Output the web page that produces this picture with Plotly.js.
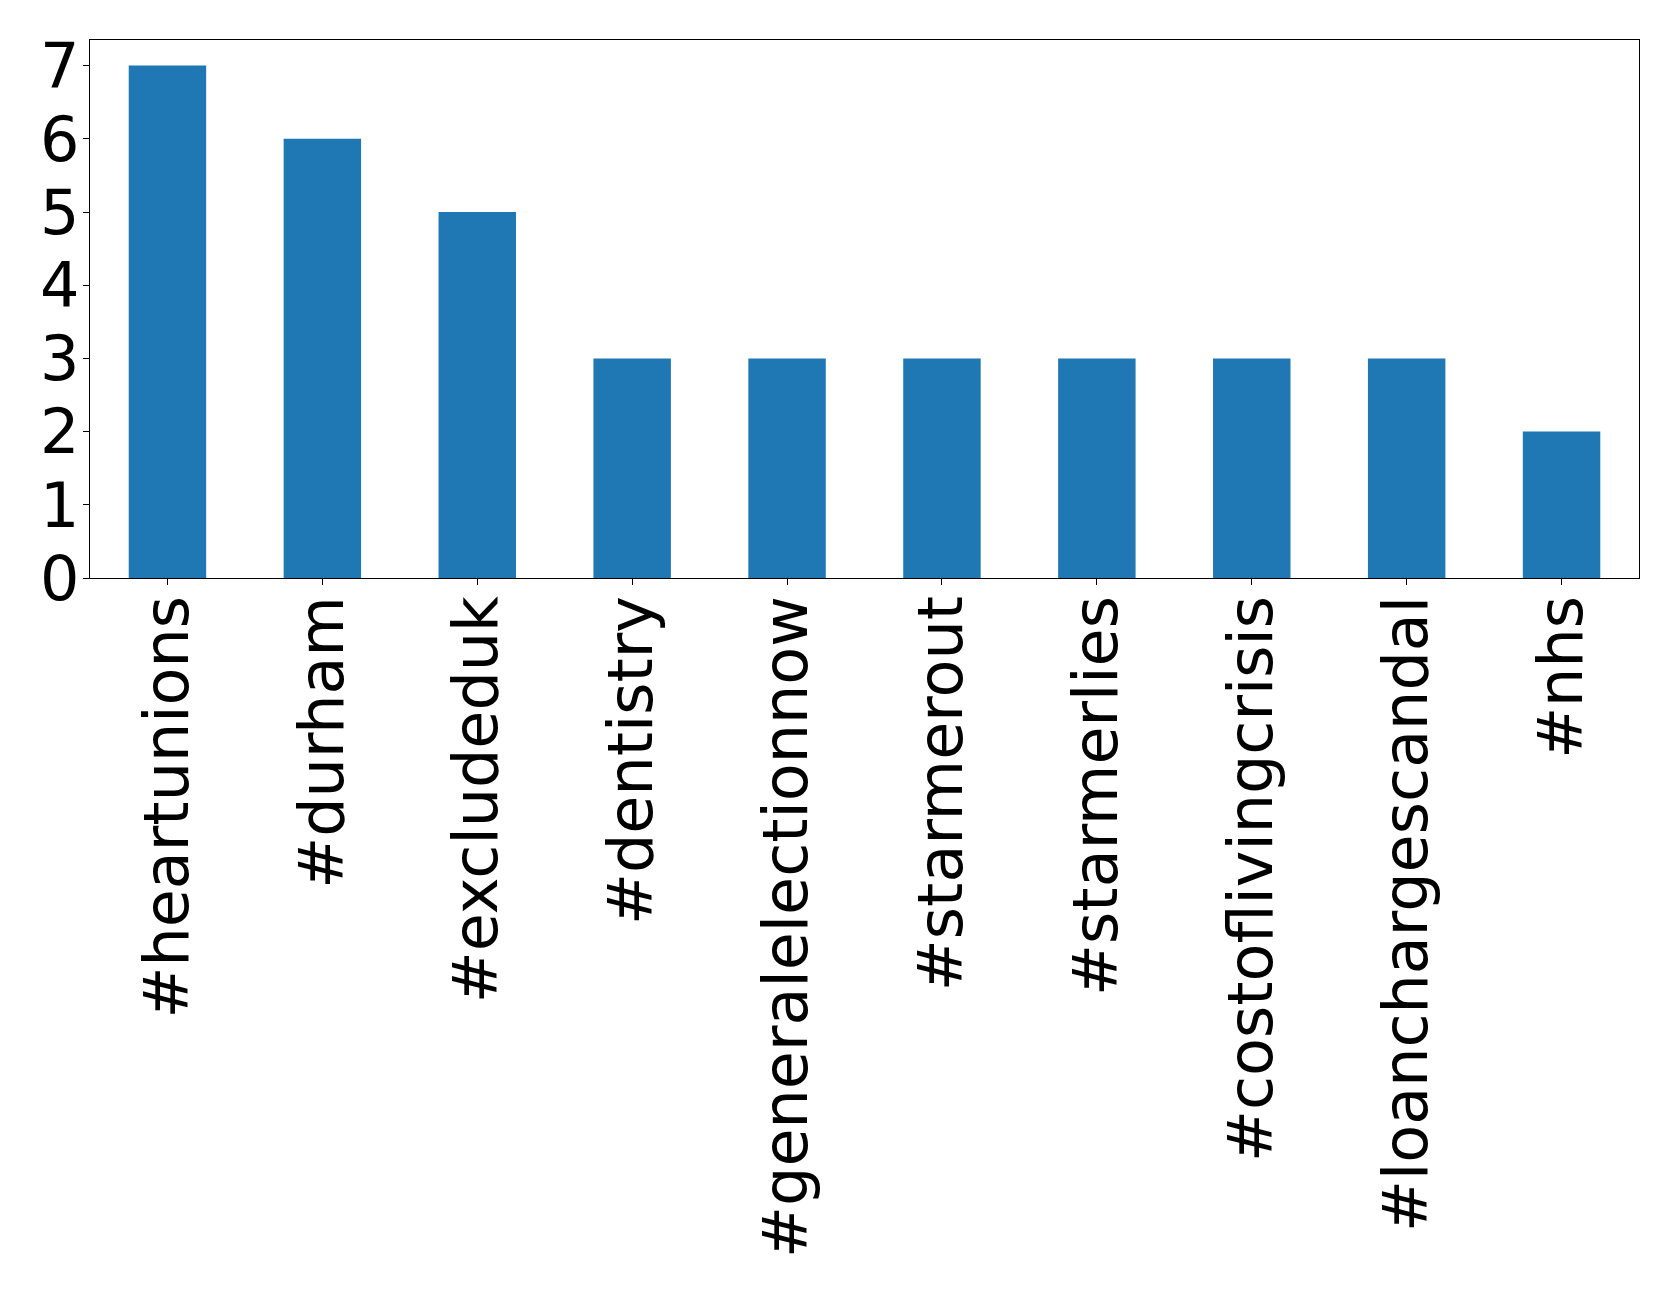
<!DOCTYPE html>
<html>
<head>
<meta charset="utf-8">
<script src="https://cdn.plot.ly/plotly-3.0.1.min.js"></script>
<style>html,body{margin:0;padding:0;background:#fff;}</style>
</head>
<body>
<div id="chart" style="width:1679px;height:1295px;"></div>
<script>
const hashtags = ["#heartunions", "#durham", "#excludeduk", "#dentistry", "#generalelectionnow", "#starmerout", "#starmerlies", "#costoflivingcrisis", "#loanchargescandal", "#nhs"];
const counts = [7, 6, 5, 3, 3, 3, 3, 3, 3, 2];
const yTicks = [0, 1, 2, 3, 4, 5, 6, 7];

const trace = {
  type: "bar",
  x: hashtags,
  y: counts,
  width: 0.5,
  marker: {color: "#1f77b4", line: {width: 0}},
  hoverinfo: "x+y"
};

const layout = {
  width: 1679,
  height: 1295,
  margin: {l: 90, r: 40, t: 40, b: 717, pad: 0},
  paper_bgcolor: "#fff",
  plot_bgcolor: "#fff",
  showlegend: false,
  font: {family: "DejaVu Sans", size: 62, color: "#000"},
  xaxis: {
    type: "category",
    range: [-0.5, 9.5],
    tickangle: -90,
    ticks: "outside",
    ticklen: 6,
    tickwidth: 1,
    tickcolor: "#000",
    showline: true,
    linecolor: "#000",
    linewidth: 1.2,
    mirror: true,
    showgrid: false,
    zeroline: false,
    ticklabelstandoff: -14,
    tickfont: {family: "DejaVu Sans", size: 62, color: "#000"}
  },
  yaxis: {
    range: [0, 7.35],
    tickmode: "array",
    tickvals: yTicks,
    ticktext: yTicks.map(String),
    ticks: "outside",
    ticklen: 6,
    tickwidth: 1,
    tickcolor: "#000",
    showline: true,
    linecolor: "#000",
    linewidth: 1.2,
    mirror: true,
    showgrid: false,
    zeroline: false,
    ticklabelstandoff: -9,
    tickfont: {family: "DejaVu Sans", size: 62, color: "#000"}
  }
};

Plotly.newPlot("chart", [trace], layout, {displayModeBar: false, staticPlot: true});
</script>
</body>
</html>
